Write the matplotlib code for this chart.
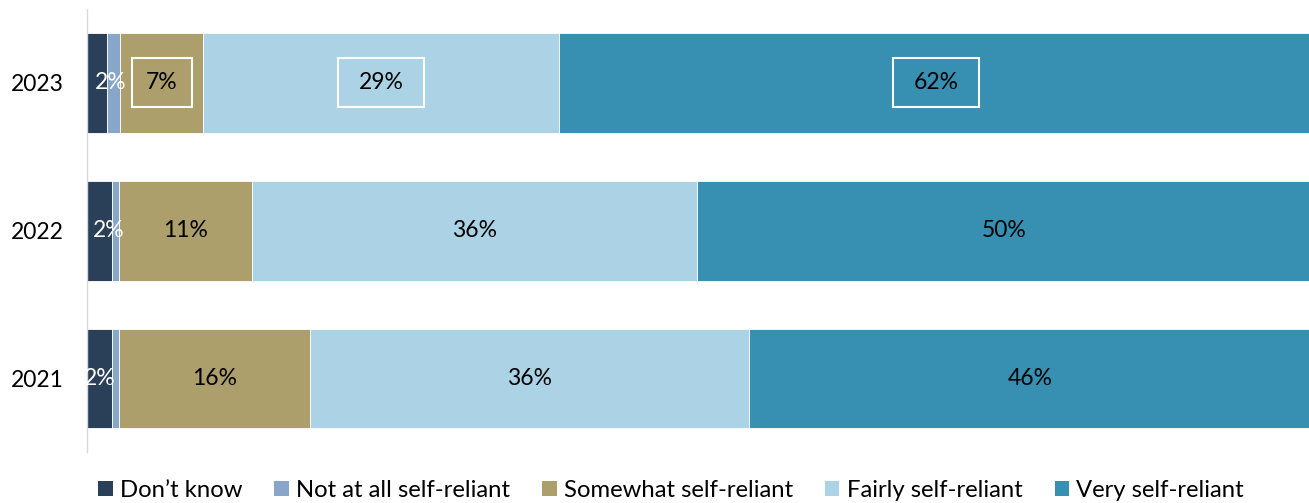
import matplotlib
matplotlib.use("Agg")
import matplotlib.pyplot as plt
from matplotlib.patches import Rectangle, Patch
from matplotlib.transforms import ScaledTranslation

plt.rcParams['font.family'] = ['Lato', 'DejaVu Sans']

# Survey shares (%) by year
years = ['2023', '2022', '2021']
series_names = ['Don\u2019t know', 'Not at all self-reliant', 'Somewhat self-reliant',
                'Fairly self-reliant', 'Very self-reliant']
dont_know = [1.6, 2.0, 2.0]
not_at_all = [1.1, 0.6, 0.6]
somewhat = [6.8, 10.9, 15.6]
fairly = [29.0, 36.3, 35.8]
very = [61.6, 50.2, 46.0]

colors = ['#2a3f58', '#87a6c8', '#ad9f6c', '#abd3e5', '#378fb2']
label_colors = ['white', None, 'black', 'black', 'black']
boxed_row = '2023'
box_widths = {2: 0.60, 3: 0.86, 4: 0.86}   # inches
dk_label_shift = {'2023': 10, '2022': 7, '2021': 0}  # points

fig = plt.figure(figsize=(13.09, 5.03), dpi=100)
ax = fig.add_axes([87 / 1309, 0.1004, 1225 / 1309, 0.882])

series = [dont_know, not_at_all, somewhat, fairly, very]
ypos = list(range(len(years)))
left = [0.0] * len(years)
for si, (vals, col) in enumerate(zip(series, colors)):
    ax.barh(ypos, vals, left=left, height=0.675, color=col,
            edgecolor='white', linewidth=0.6, label=series_names[si])
    for i, v in enumerate(vals):
        cx = left[i] + v / 2
        if label_colors[si] is None:
            continue
        txt = f"{round(v):d}%"
        if si == 0:
            trans = ax.transData + ScaledTranslation(dk_label_shift[years[i]] / 72, 0,
                                                     fig.dpi_scale_trans)
            ax.text(cx, i, txt, transform=trans, ha='center', va='center',
                    color='white', fontsize=16.5, clip_on=True)
        else:
            ax.text(cx, i, txt, ha='center', va='center',
                    color=label_colors[si], fontsize=16.5)
            if years[i] == boxed_row and si in box_widths:
                w = box_widths[si]
                h = 0.49
                tr = fig.dpi_scale_trans + ScaledTranslation(cx, i, ax.transData)
                ax.add_patch(Rectangle((-w / 2, -h / 2), w, h, transform=tr,
                                       fill=False, edgecolor='white', linewidth=1.5))
    left = [l + v for l, v in zip(left, vals)]

ax.set_xlim(0, 100)
ax.set_ylim(2.5, -0.5)
ax.set_yticks(ypos)
ax.set_yticklabels(years, fontsize=16.5)
ax.tick_params(axis='y', length=0, pad=17)
ax.set_xticks([])
for s in ['top', 'right', 'bottom']:
    ax.spines[s].set_visible(False)
ax.spines['left'].set_color('#d9d9d9')
ax.spines['left'].set_linewidth(1.0)

handles = [Patch(facecolor=c, edgecolor='none') for c in colors]
fig.legend(handles, series_names, loc='center', bbox_to_anchor=(0.5126, 0.025),
           ncol=5, frameon=False, fontsize=17.2, handlelength=0.6, handleheight=0.6,
           handletextpad=0.3, columnspacing=1.35, borderaxespad=0, borderpad=0)

fig.savefig('out.png', dpi=100)
